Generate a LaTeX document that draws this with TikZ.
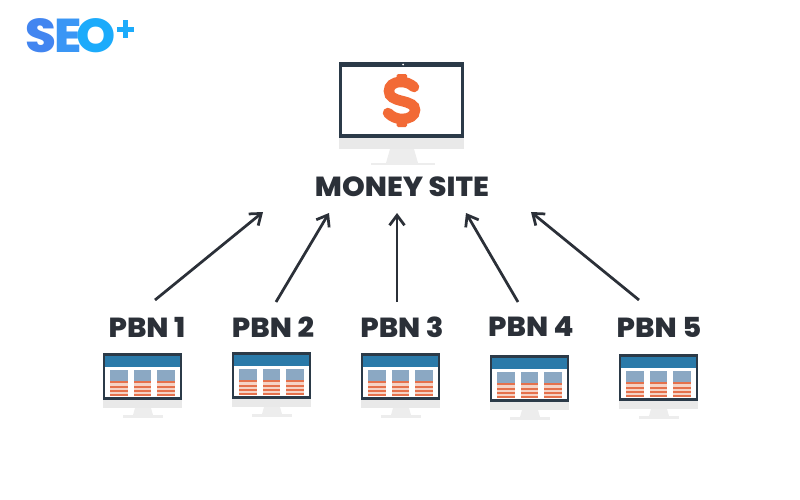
\documentclass[tikz,border=0pt]{standalone}
\usepackage{fontspec}
\setmainfont[FakeStretch=1.05]{Poppins ExtraBold}
\usetikzlibrary{arrows.meta}
\definecolor{inkdark}{HTML}{2B3038}
\definecolor{bezel}{HTML}{2B3A48}
\definecolor{chin}{HTML}{E9E9E9}
\definecolor{stand}{HTML}{EDEDED}
\definecolor{topbar}{HTML}{2A7AA9}
\definecolor{thumb}{HTML}{8BA8C3}
\definecolor{stripe}{HTML}{E5714C}
\definecolor{tint}{HTML}{F5D3C6}
\definecolor{dollar}{HTML}{F26A36}
\definecolor{logoa}{HTML}{4285F0}
\definecolor{logob}{HTML}{3A96F5}
\definecolor{logoc}{HTML}{1CABFB}
\tikzset{
  title/.style={text=inkdark,font=\fontsize{15.7}{16}\selectfont,inner sep=0pt},
  link/.style={draw=inkdark,line width=0.55mm,-{Straight Barb[length=2mm,width=3mm]}},
  letter/.style={font=\fontsize{27}{27}\selectfont,inner sep=0pt}
}
% small monitor, #1 = top left corner
\newcommand{\smallscreen}[1]{
  \begin{scope}[shift={#1}]
    \fill[stand] (32,55) -- (48,55) -- (50,62) -- (30,62) -- cycle;
    \fill[stand] (20,62) rectangle (60,64.5);
    \fill[chin] (0,47) rectangle (79,55);
    \fill[bezel] (0,0) rectangle (79,47);
    \fill[white] (2,3) rectangle (77,44);
    \fill[topbar] (2,3) rectangle (77,14);
    \foreach \col in {7,30.5,54}{
      \fill[thumb] (\col,17) rectangle ++(17.5,11);
      \fill[tint] (\col,28) rectangle ++(17.5,15);
      \foreach \row in {28,32.6,36.9,41}
        \fill[stripe] (\col,\row) rectangle ++(17.5,2.4);
    }
  \end{scope}
}
\begin{document}
\begin{tikzpicture}[x=0.2mm,y=-0.2mm]
\useasboundingbox (0,0) rectangle (800,500);
% logo
\node[letter,text=logoa] (logoS) at (41,36) {S};
\node[letter,text=logob] (logoE) at (68,36) {E};
\node[letter,text=logoc] (logoO) at (96,36) {O};
\fill[logoc] (117,27) rectangle (134,32);
\fill[logoc] (123,20) rectangle (128,38);
% money site monitor
\fill[stand] (390,149) -- (414,149) -- (418,163) -- (386,163) -- cycle;
\fill[stand] (371,163) rectangle (435,165);
\fill[chin] (339,138) rectangle (464,149);
\fill[bezel] (339,62) rectangle (464,138);
\fill[white] (342,66.5) rectangle (461,133.5);
\fill[white] (403,64.5) circle (1);
\draw[dollar,line width=2.1mm,line cap=round] (414,87) .. controls (410,83.5) and (406,82) .. (401,82)
  .. controls (393,82) and (389,86) .. (389,91) .. controls (389,97) and (394,99) .. (402,101)
  .. controls (410,103) and (415,105) .. (415,110) .. controls (415,116) and (409,119) .. (402,119)
  .. controls (397,119) and (392,117) .. (388,113);
\fill[dollar,rounded corners=0.3mm] (396.5,74) rectangle (407,84);
\fill[dollar,rounded corners=0.3mm] (396.5,117) rectangle (407,127);
\node[title] (money) at (402,187) {MONEY SITE};
% pbn labels
\node[title] (pbn1) at (147,327) {PBN 1};
\node[title] (pbn2) at (273,327) {PBN 2};
\node[title] (pbn3) at (402,327) {PBN 3};
\node[title] (pbn4) at (531,327) {PBN 4};
\node[title] (pbn5) at (659,327) {PBN 5};
% pbn monitors
\smallscreen{(103,353)}
\smallscreen{(232,352)}
\smallscreen{(361,353)}
\smallscreen{(490,355)}
\smallscreen{(619,354)}
% arrows
\coordinate (from1) at (155,300);
\coordinate (from2) at (276,302);
\coordinate (from3) at (397,302);
\coordinate (from4) at (518,302);
\coordinate (from5) at (639,300);
\coordinate (to1) at (263,212);
\coordinate (to2) at (329,213);
\coordinate (to3) at (397,213);
\coordinate (to4) at (466,213);
\coordinate (to5) at (531,212);
\foreach \i in {1,...,5}
  \draw[link] (from\i) -- (to\i);
\end{tikzpicture}
\end{document}
